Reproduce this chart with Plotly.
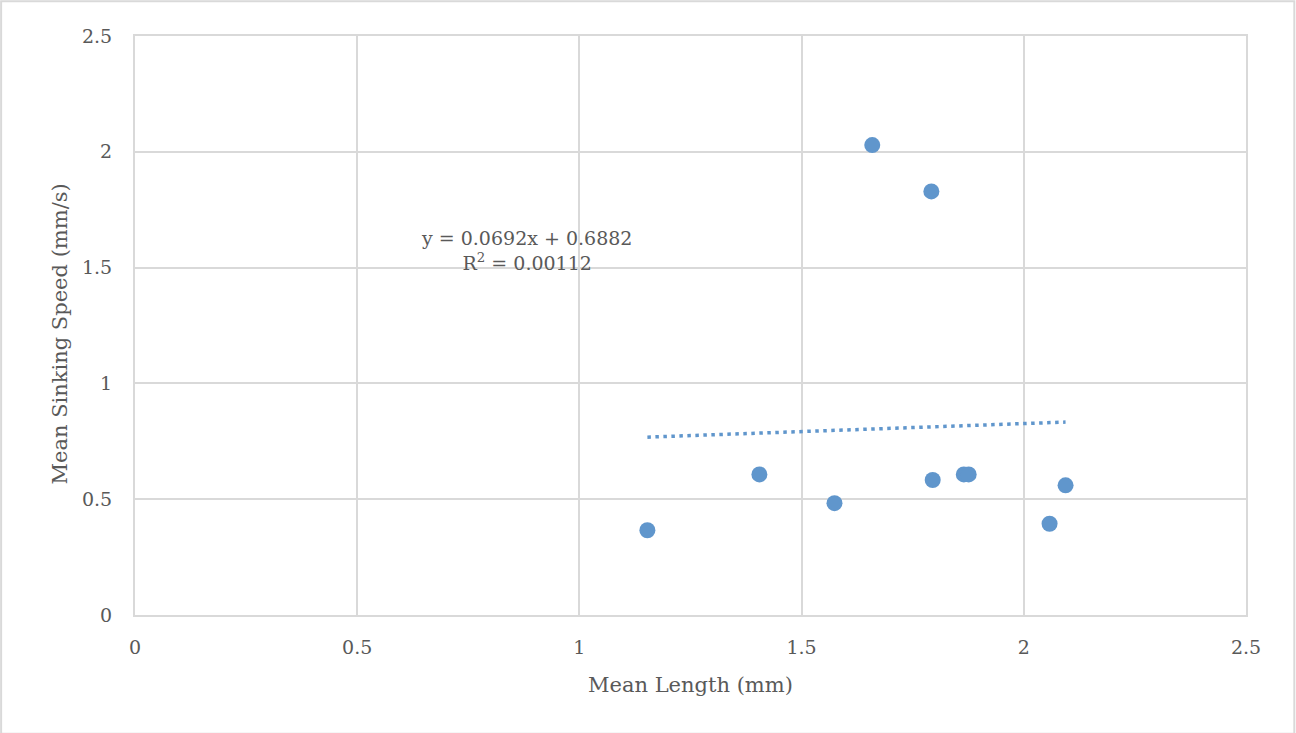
import plotly.graph_objects as go

# Mean body length (mm) vs mean sinking speed (mm/s)
mean_length = [1.153, 1.405, 1.574, 1.659, 1.792, 1.795, 1.865, 1.876, 2.058, 2.094]
mean_speed = [0.366, 0.607, 0.483, 2.029, 1.829, 0.583, 0.607, 0.607, 0.394, 0.560]

# Linear trendline coefficients
slope = 0.0692
intercept = 0.6882
r_squared = 0.00112

x_ticks = [0, 0.5, 1, 1.5, 2, 2.5]
y_ticks = [0, 0.5, 1, 1.5, 2, 2.5]

FONT = "DejaVu Serif"
TEXT = "#595959"
GRID = "#D9D9D9"
BLUE = "#6096CC"

x_min, x_max = min(mean_length), max(mean_length)
trend_x = [x_min, x_max]
trend_y = [slope * v + intercept for v in trend_x]

fig = go.Figure()
fig.add_trace(go.Scatter(
    x=trend_x, y=trend_y, mode="lines",
    line=dict(color=BLUE, width=3.5, dash="3.5px,4.5px"),
    hoverinfo="skip", showlegend=False,
))
fig.add_trace(go.Scatter(
    x=mean_length, y=mean_speed, mode="markers",
    marker=dict(color=BLUE, size=16, line=dict(width=0)),
    showlegend=False,
))

fig.add_annotation(
    x=0.88, y=1.572, xref="x", yref="y",
    text=f"y = {slope}x + {intercept}<br>R<sup>2</sup> = {r_squared}",
    showarrow=False, align="center",
    font=dict(family=FONT, size=19, color=TEXT),
)

# Axis titles placed at fixed offsets from the plot area
fig.add_annotation(
    x=0.5, y=0, xref="paper", yref="paper", yshift=-70,
    text="Mean Length (mm)", showarrow=False,
    xanchor="center", yanchor="middle",
    font=dict(family=FONT, size=21, color=TEXT),
)
fig.add_annotation(
    x=0, y=0.5, xref="paper", yref="paper", xshift=-76, yshift=-9,
    text="Mean Sinking Speed (mm/s)", showarrow=False, textangle=-90,
    xanchor="center", yanchor="middle",
    font=dict(family=FONT, size=21, color=TEXT),
)

axis_common = dict(
    showgrid=True, gridcolor=GRID, gridwidth=2,
    showline=True, linecolor=GRID, linewidth=2, mirror=True,
    zeroline=False, ticks="",
    tickfont=dict(family=FONT, size=19, color=TEXT),
)

fig.update_xaxes(
    range=[0, 2.5], tickvals=x_ticks, ticktext=[f"{t:g}" for t in x_ticks],
    ticklabelstandoff=14,
    **axis_common,
)
fig.update_yaxes(
    range=[0, 2.5], tickvals=y_ticks, ticktext=[f"{t:g}" for t in y_ticks],
    ticklabelstandoff=17,
    **axis_common,
)

fig.add_shape(
    type="rect", xref="paper", yref="paper",
    x0=-0.1205, x1=1.0435, y0=-0.205, y1=1.06,
    line=dict(color=GRID, width=2), layer="below",
)

fig.update_layout(
    width=1296, height=733,
    margin=dict(l=135, r=50, t=36, b=118),
    plot_bgcolor="white", paper_bgcolor="white",
    font=dict(family=FONT, color=TEXT),
)

fig.write_html("out.html")
